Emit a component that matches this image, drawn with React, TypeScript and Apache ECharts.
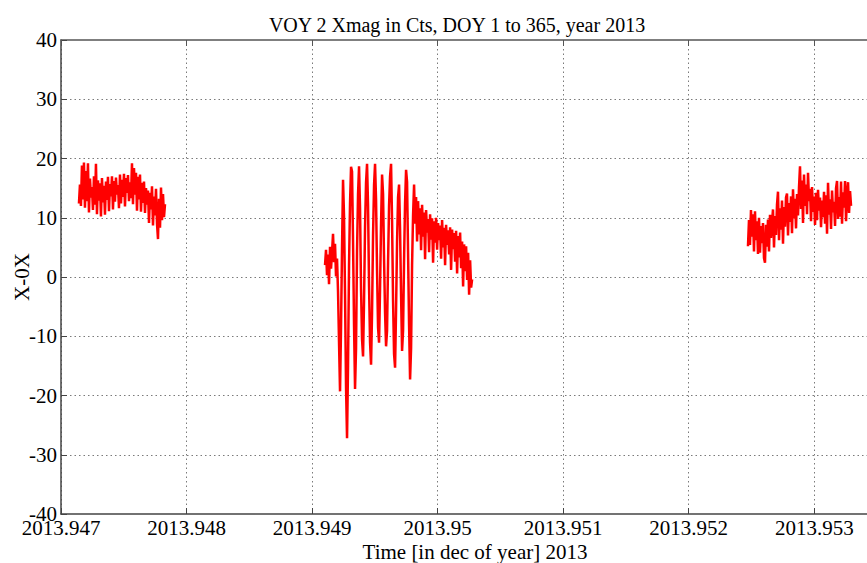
import React, { useEffect, useRef } from "react";
import * as echarts from "echarts";

// Magnetometer X counts (offset-removed), three data passes in late 2013.
const SAMPLE_STEP = 7.97e-6; // decimal years between samples

const PASS1_START = 2013.947143;
const PASS1_VALUES = [
  12.4, 15.6, 12.0, 18.8, 13.1, 19.3, 11.7, 17.9, 12.8, 19.2, 10.9, 16.6, 13.4, 15.2, 11.3,
  17.0, 12.2, 19.1, 10.6, 16.3, 12.9, 15.8, 10.2, 16.7, 12.6, 15.4, 10.5, 16.1, 13.0, 16.9,
  11.1, 15.7, 13.6, 17.0, 11.4, 16.2, 12.7, 16.8, 13.9, 15.5, 11.6, 17.3, 12.4, 16.4, 13.5,
  17.4, 11.9, 16.7, 14.2, 17.2, 12.8, 16.0, 13.3, 19.2, 12.3, 18.4, 13.9, 17.6, 11.2, 16.9,
  13.1, 17.3, 11.0, 15.9, 12.5, 16.1, 10.8, 15.0, 12.2, 14.6, 9.1, 14.2, 11.4, 15.3, 8.7,
  13.6, 10.4, 14.9, 9.0, 6.4, 13.2, 8.3, 15.1, 9.6, 14.0, 10.1, 12.3,
];

const PASS2_START = 2013.949103;
const PASS2_VALUES = [
  2.0, 4.6, 0.3, 3.8, -1.2, 5.1, 1.4, 4.2, 7.3, 2.5, 5.6, 0.1, 3.1,
  -2.5, -11.0, -19.3, -8.5, 5.0, 16.4, 10.2, -3.0, -18.5, -27.2, -15.0, 2.0, 12.5, 18.6,
  17.8, 6.0, -8.0, -18.9, -12.0, 4.5, 14.0, 18.7, 11.5, -2.0, -10.5, -13.4, -4.0, 8.5,
  16.0, 19.1, 12.0, -1.5, -11.0, -14.8, -6.0, 7.0, 15.5, 19.1, 13.0, 1.0, -8.5, -11.1,
  -2.0, 9.0, 17.3, 14.0, 3.0, -6.0, -11.7, -9.0, 2.5, 12.0, 17.0, 19.1, 9.5, -4.0, -13.0,
  -15.3, -5.5, 6.0, 13.5, 15.6, 8.0, -3.0, -12.5, -9.0, 3.0, 12.5, 18.1, 16.0, 4.0, -8.0,
  -17.3, -12.0, 2.0, 10.5, 15.6, 9.0,
  13.5, 6.0, 12.8, 7.2, 11.6, 4.5, 12.2, 6.8, 10.9, 3.0, 11.3, 7.5, 9.8, 4.2, 10.6, 6.3,
  9.9, 2.4, 9.4, 5.8, 10.0, 4.6, 9.1, 6.2, 8.7, 3.1, 9.6, 5.0, 8.3, 2.0, 8.8, 5.4, 7.9,
  3.8, 8.4, 1.2, 8.0, 4.7, 7.4, 2.6, 7.8, 0.6, 6.9, 3.3, 7.5, 1.5, 6.0, -1.6, 5.5, 1.0,
  5.2, -0.5, 4.1, -3.0, 2.8, -1.8, -0.4,
];

const PASS3_START = 2013.952472;
const PASS3_VALUES = [
  5.2, 9.6, 5.4, 11.3, 6.8, 10.6, 4.3, 11.1, 6.2, 9.4, 3.9, 10.0, 4.1, 8.6, 5.7, 9.1, 3.2,
  2.4, 8.8, 5.1, 9.7, 4.3, 10.5, 6.6, 9.2, 11.4, 5.0, 10.3, 7.1, 12.2, 14.4, 6.2, 11.6, 8.0,
  12.9, 5.6, 11.8, 8.5, 13.4, 14.1, 7.0, 12.5, 9.3, 13.6, 7.4, 14.8, 9.9, 13.2, 8.2, 14.0,
  10.4, 15.2, 18.7, 11.5, 16.3, 9.1, 17.3, 12.0, 15.6, 10.6, 17.6, 12.8, 14.9, 9.4, 15.2,
  11.0, 13.6, 8.8, 14.2, 9.6, 14.7, 11.2, 13.4, 8.4, 12.9, 10.1, 14.4, 9.0, 13.8, 7.3, 15.9,
  10.5, 13.1, 8.1, 14.6, 10.9, 12.7, 8.6, 15.0, 16.2, 9.8, 13.5, 10.2, 16.1, 9.0, 14.3, 11.7,
  16.2, 9.4, 13.9, 16.0, 10.8, 14.5, 12.0,
];

const X_MIN = 2013.947;
const X_MAX = 2013.95342;
const X_STEP = 0.001;
const Y_MIN = -40;
const Y_MAX = 40;
const Y_STEP = 10;

const TITLE = "VOY 2 Xmag in Cts, DOY 1 to 365, year 2013";
const X_NAME = "Time [in dec of year] 2013";
const Y_NAME = "X-0X";

const FONT = "'Liberation Serif', 'Times New Roman', serif";

const toPoints = (start: number, values: number[]) =>
  values.map((v, i) => [start + i * SAMPLE_STEP, v]);

export default function App() {
  const ref = useRef<HTMLDivElement>(null);

  useEffect(() => {
    if (!ref.current) return;
    const chart = echarts.init(ref.current, undefined, { renderer: "svg" });

    const gridLine = { show: true, lineStyle: { color: "#7a7a7a", type: [1.5, 3] as any, width: 1 } };
    const lineSeries = (data: number[][]) => ({
      type: "line",
      data,
      showSymbol: false,
      symbol: "none",
      lineStyle: { color: "#ff0000", width: 2.5 },
      itemStyle: { color: "#ff0000" },
      silent: true,
    });

    chart.setOption({
      animation: false,
      backgroundColor: "#ffffff",
      textStyle: { fontFamily: FONT },
      grid: { left: 61, right: 0, top: 40, bottom: 49, containLabel: false },
      xAxis: [
        {
          type: "value",
          min: X_MIN,
          max: X_MAX,
          interval: X_STEP,
          axisLine: { show: true, onZero: false, lineStyle: { color: "#444", width: 1.5 } },
          axisTick: { show: true, inside: true, length: 6, lineStyle: { color: "#444" } },
          axisLabel: {
            show: true,
            color: "#000",
            fontFamily: FONT,
            fontSize: 21,
            lineHeight: 18,
            margin: 5,
            showMaxLabel: false,
            formatter: (v: number) => String(Math.round(v * 1000) / 1000),
          },
          splitLine: { ...gridLine, showMinLine: true, showMaxLine: false },
        },
        {
          type: "value",
          position: "top",
          min: X_MIN,
          max: X_MAX,
          interval: X_STEP,
          axisLine: { show: true, onZero: false, lineStyle: { color: "#555", width: 1.5 } },
          axisTick: { show: true, inside: true, length: 6, lineStyle: { color: "#555" } },
          axisLabel: { show: false },
          splitLine: { show: false },
        },
      ],
      yAxis: {
        type: "value",
        min: Y_MIN,
        max: Y_MAX,
        interval: Y_STEP,
        axisLine: { show: true, onZero: false, lineStyle: { color: "#444", width: 1.5 } },
        axisTick: { show: true, inside: true, length: 6, lineStyle: { color: "#444" } },
        axisLabel: { color: "#000", fontFamily: FONT, fontSize: 21, lineHeight: 18, margin: 4 },
        splitLine: { ...gridLine, showMinLine: false, showMaxLine: false },
      },
      title: {
        text: TITLE,
        left: 452,
        top: 10,
        textAlign: "center",
        textStyle: { fontFamily: FONT, fontSize: 20, fontWeight: "normal", color: "#000" },
      },
      graphic: [
        {
          type: "text",
          x: 475,
          y: 552,
          style: {
            text: X_NAME,
            font: `21px ${FONT}`,
            fill: "#000",
            align: "center",
            verticalAlign: "middle",
          },
        },
        {
          type: "text",
          x: 22,
          y: 277,
          rotation: Math.PI / 2,
          style: {
            text: Y_NAME,
            font: `21px ${FONT}`,
            fill: "#000",
            align: "center",
            verticalAlign: "middle",
          },
        },
      ],
      series: [
        lineSeries(toPoints(PASS1_START, PASS1_VALUES)),
        lineSeries(toPoints(PASS2_START, PASS2_VALUES)),
        lineSeries(toPoints(PASS3_START, PASS3_VALUES)),
      ],
    });

    return () => chart.dispose();
  }, []);

  return (
    <div
      ref={ref}
      style={{ position: "fixed", left: 0, top: 0, width: 867, height: 563, background: "#fff" }}
    />
  );
}
